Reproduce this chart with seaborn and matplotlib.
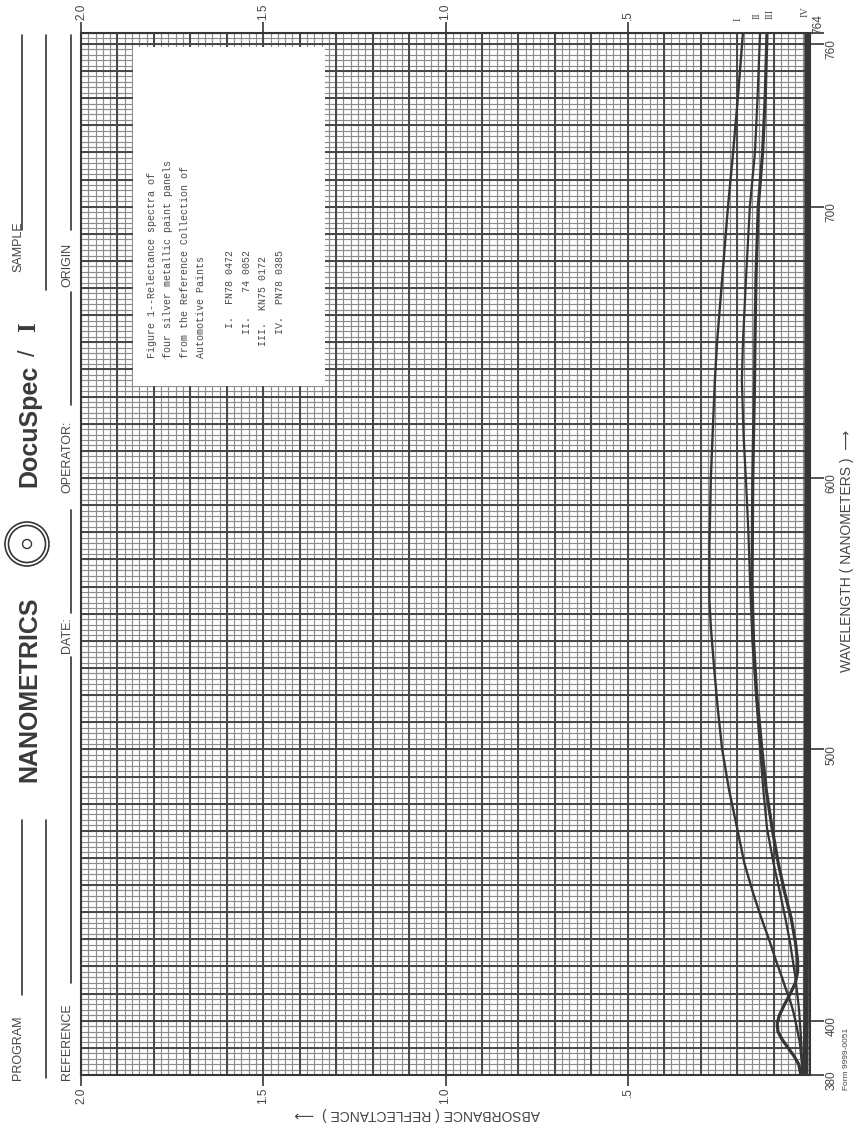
import numpy as np
import pandas as pd
import matplotlib
matplotlib.use("Agg")
import matplotlib.pyplot as plt
import seaborn as sns
from matplotlib.patches import Rectangle, Circle

# ---------------- data ----------------
wl_I = [380, 384, 388, 392, 396, 400, 404, 408, 412, 416, 422, 429, 438, 447, 458,
        471, 485, 500, 515, 530, 545, 555, 575, 600, 620, 636, 650, 675, 700, 720, 740, 764]
abs_I = [0.020, 0.022, 0.025, 0.028, 0.034, 0.040, 0.047, 0.056, 0.067, 0.077, 0.093,
         0.110, 0.134, 0.156, 0.180, 0.200, 0.222, 0.241, 0.253, 0.263, 0.272, 0.276,
         0.276, 0.272, 0.266, 0.261, 0.255, 0.240, 0.225, 0.211, 0.198, 0.184]

wl_II = [380, 386, 392, 398, 404, 410, 416, 422, 429, 438, 447, 458, 471, 485, 500,
         520, 540, 560, 580, 600, 615, 636, 650, 675, 700, 720, 740, 764]
abs_II = [0.021, 0.022, 0.024, 0.027, 0.030, 0.035, 0.040, 0.047, 0.055, 0.068, 0.082,
          0.100, 0.118, 0.128, 0.137, 0.148, 0.158, 0.164, 0.169, 0.176, 0.182, 0.187,
          0.184, 0.175, 0.165, 0.151, 0.144, 0.137]

wl_III = [380, 384, 387, 390, 393, 396, 399, 402, 406, 410, 414, 418, 422, 429, 438,
          447, 458, 471, 485, 500, 520, 540, 560, 580, 600, 615, 636, 650, 675, 700,
          720, 740, 764]
abs_III = [0.025, 0.031, 0.044, 0.060, 0.076, 0.088, 0.090, 0.084, 0.070, 0.054, 0.040,
           0.034, 0.034, 0.040, 0.052, 0.069, 0.087, 0.104, 0.120, 0.132, 0.146, 0.155,
           0.159, 0.158, 0.157, 0.155, 0.152, 0.151, 0.148, 0.142, 0.130, 0.123, 0.118]

wl_IV = [380, 400, 450, 500, 600, 700, 764]
abs_IV = [0.012, 0.011, 0.010, 0.009, 0.008, 0.008, 0.008]

series_names = ["I", "II", "III", "IV"]
abs_ticks = [2.0, 1.5, 1.0, 0.5]
abs_tick_labels = ["2.0", "1.5", "1.0", ".5"]
wl_ticks = [380, 400, 500, 600, 700, 760, 764]
wl_tick_labels = ["380", "400", "500", "600", "700", "760", ""]

legend_lines = [
    "Figure 1--Relectance spectra of",
    "four silver metallic paint panels",
    "from the Reference Collection of",
    "Automotive Paints",
]
sample_lines = [
    "     I.  FN78 0472",
    "    II.    74 0052",
    "  III.  KN75 0172",
    "    IV.  PN78 0385",
]

# ---------------- figure ----------------
sns.set_theme(style="white")
plt.rcParams['font.family'] = ['Liberation Sans', 'DejaVu Sans']

W, H = 856, 1130
fig = plt.figure(figsize=(W / 100, H / 100), dpi=100)
fig.patch.set_facecolor("white")
L, R, T, B = 81, 810, 33, 1075
ax = fig.add_axes([L / W, 1 - B / H, (R - L) / W, (B - T) / H])
ax.set_facecolor("white")
ax.set_xlim(2.0, 0.0)
ax.set_ylim(380, 764)

ink = "#363636"
txt = "#454545"

# chart-paper grid
ax.vlines(np.round(np.arange(0, 2.0001, 0.02), 3), 380, 764, color="#8c8c8c", lw=0.85, zorder=1)
ax.hlines(np.arange(380, 765, 2), 0, 2.0, color="#8c8c8c", lw=0.85, zorder=1)
ax.vlines(np.round(np.arange(0, 2.0001, 0.1), 3), 380, 764, color="#474747", lw=1.4, zorder=1.2)
ax.hlines(np.arange(380, 761, 10), 0, 2.0, color="#474747", lw=1.4, zorder=1.2)

# white caption box
ax.add_patch(Rectangle((1.331, 634), 0.526, 125, facecolor="white", edgecolor="none", zorder=2.5))

# spectra
frames = []
for name, wl, ab in zip(series_names, [wl_I, wl_II, wl_III, wl_IV], [abs_I, abs_II, abs_III, abs_IV]):
    frames.append(pd.DataFrame({"wavelength": wl, "absorbance": ab, "sample": name}))
df = pd.concat(frames, ignore_index=True)
widths = {"I": 1.7, "II": 1.6, "III": 2.3, "IV": 4.0}
for name in series_names:
    sns.lineplot(data=df[df["sample"] == name], x="absorbance", y="wavelength",
                 sort=False, estimator=None, color=ink, lw=widths[name],
                 ax=ax, zorder=3, legend=False)
ax.set_xlabel("")
ax.set_ylabel("")

# ticks
ax.set_xticks(abs_ticks)
ax.set_xticklabels(abs_tick_labels, rotation=90)
ax.tick_params(axis="x", top=True, bottom=True, labeltop=True, labelbottom=True,
               direction="out", length=8, width=1.2, color=ink, pad=1,
               labelsize=8.5, labelcolor=txt)
ax.yaxis.tick_right()
ax.set_yticks(wl_ticks)
ax.set_yticklabels(wl_tick_labels, rotation=90)
ax.tick_params(axis="y", left=False, right=True, labelleft=False, labelright=True,
               direction="out", length=10, width=1.2, color=ink, pad=1,
               labelsize=8.5, labelcolor=txt)
for s in ax.spines.values():
    s.set_color(ink)
    s.set_linewidth(1.5)
    s.set_visible(True)

# ---------------- overlay for page texts ----------------
ov = fig.add_axes([0, 0, 1, 1])
ov.set_xlim(0, W)
ov.set_ylim(H, 0)
ov.axis("off")
ov.patch.set_alpha(0)

mono = ["Liberation Mono", "DejaVu Sans Mono"]
# caption text
for i, line in enumerate(legend_lines):
    ov.text(152 + i * 16.4, 358, line, rotation=90, ha="center", va="bottom",
            fontsize=7.2, family=mono, color="#4a4a4a")
for i, line in enumerate(sample_lines):
    ov.text(230 + i * 16.6, 358, line, rotation=90, ha="center", va="bottom",
            fontsize=7.2, family=mono, color="#4a4a4a")

# curve labels above the top edge
for lab, x, y in zip(series_names, [738, 757, 770, 805], [21, 19, 19, 17]):
    ov.text(x, y, lab, rotation=90, ha="center", va="bottom", fontsize=7.5,
            family=["Liberation Serif", "DejaVu Serif"], color="#4a4a4a")

ov.text(818, 24, "764", rotation=90, ha="center", va="center", fontsize=8.5, color=txt)

# header (rotated page)
hdr = dict(rotation=90, ha="center", va="bottom", fontsize=9, color=txt)
ov.text(18, 1080, "PROGRAM", **hdr)
ov.text(18, 272, "SAMPLE", **hdr)
ov.text(67, 1080, "REFERENCE", **hdr)
ov.text(67, 653, "DATE:", **hdr)
ov.text(67, 493, "OPERATOR:", **hdr)
ov.text(67, 287, "ORIGIN", **hdr)
for x, y0, y1 in [(22, 995, 820), (22, 230, 35), (46, 1078, 820), (46, 290, 35),
                  (71, 983, 657), (71, 613, 510), (71, 405, 292), (71, 230, 35)]:
    ov.plot([x, x], [y0, y1], color=ink, lw=1.2)

ov.text(29, 782, "NANOMETRICS", rotation=90, ha="center", va="bottom",
        fontsize=18, fontweight="bold", color="#3a3a3a")
ov.add_patch(Circle((27, 544), 22, fill=False, lw=1.2, edgecolor=ink))
ov.add_patch(Circle((27, 544), 18.5, fill=False, lw=1.2, edgecolor=ink))
ov.add_patch(Circle((27, 544), 4.5, fill=False, lw=1.0, edgecolor=ink))
ov.text(29, 487, "DocuSpec", rotation=90, ha="center", va="bottom",
        fontsize=18, fontweight="bold", color="#3a3a3a")
ov.text(29, 356, "/", rotation=90, ha="center", va="bottom", fontsize=17, color="#3a3a3a")
ov.text(29, 332, "I", rotation=90, ha="center", va="bottom", fontsize=18,
        fontweight="bold", family=["Liberation Serif", "DejaVu Serif"], color="#3a3a3a")

ov.text(847, 672, "WAVELENGTH ( NANOMETERS )  \u27F6", rotation=90, ha="center", va="bottom",
        fontsize=10, color=txt)
ov.text(417, 1114, "ABSORBANCE ( REFLECTANCE )  \u27F6", rotation=180, ha="center", va="center",
        fontsize=10, color=txt)
ov.text(847, 1090, "Form 9999-0051", rotation=90, ha="center", va="bottom",
        fontsize=6, color=txt)

fig.savefig("out.png", dpi=100, facecolor="white")
